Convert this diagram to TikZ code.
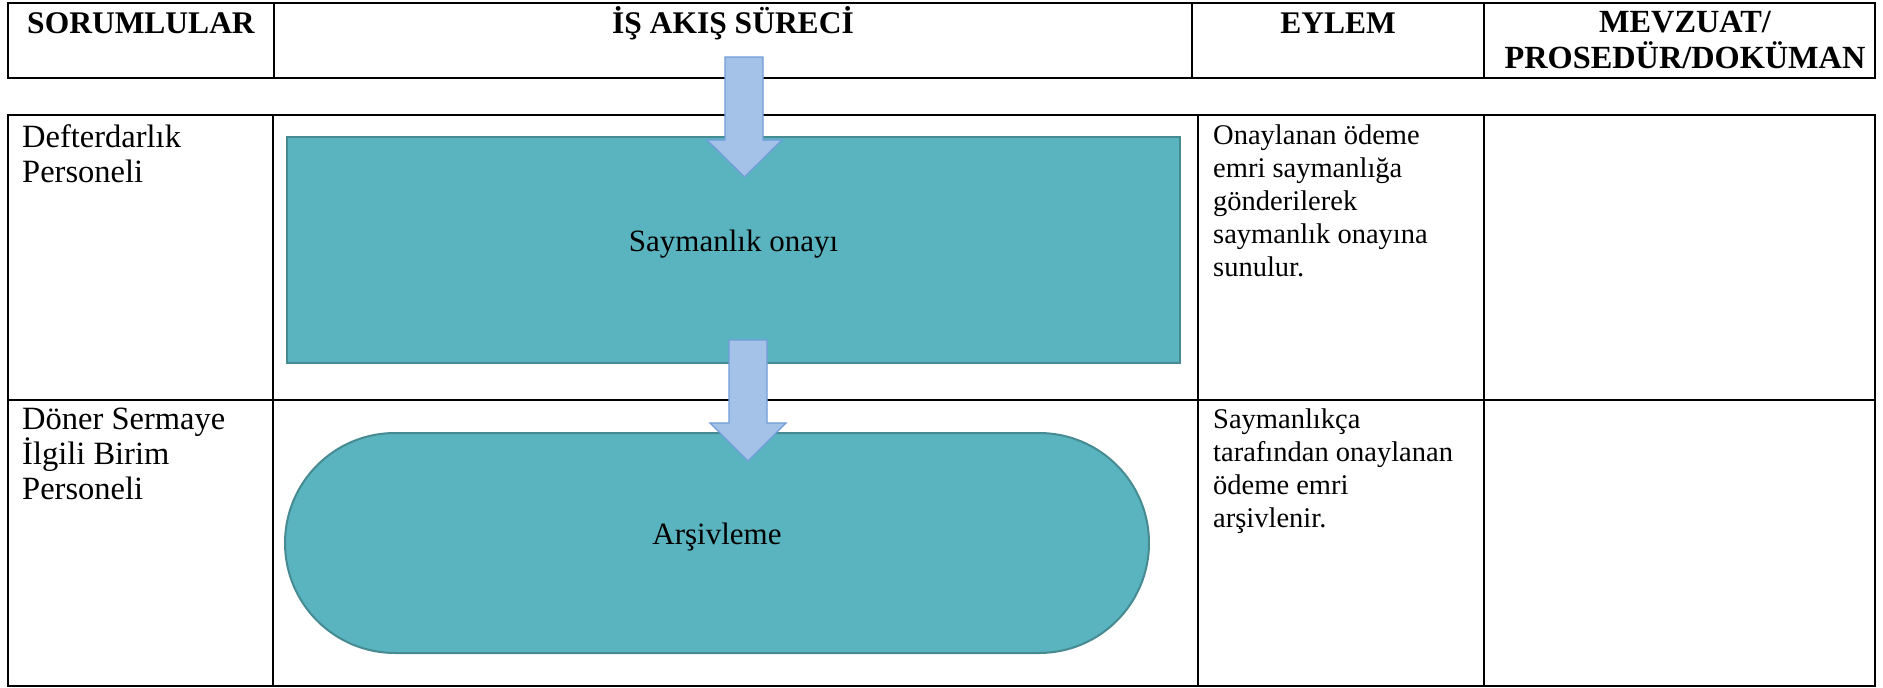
\documentclass[tikz,border=0pt]{standalone}
\usepackage{fontspec}
\setmainfont{Liberation Serif}
\definecolor{tealfill}{RGB}{90,180,191}
\definecolor{tealedge}{RGB}{70,138,146}
\definecolor{arrowfill}{RGB}{164,194,232}
\definecolor{arrowedge}{RGB}{112,156,218}
\begin{document}
\begin{tikzpicture}[x=1pt,y=-1pt,
  gridline/.style={line width=2.6pt, black},
  innerline/.style={line width=1.6pt, black},
  proc/.style={draw=tealedge, line width=2.5pt, fill=tealfill, inner sep=0pt},
  blockarrow/.style={draw=arrowedge, line width=1.3pt, fill=arrowfill, line join=miter},
  hdr/.style={font=\fontsize{31.5}{36}\selectfont\bfseries, align=center, anchor=base, inner sep=0pt},
  hdrtop/.style={font=\fontsize{32.3}{36}\selectfont\bfseries, align=center, anchor=north, inner sep=0pt},
  body/.style={font=\fontsize{28.5}{33}\selectfont, align=left, anchor=north west, inner sep=0pt},
  role/.style={font=\fontsize{32.5}{35}\selectfont, align=left, anchor=north west, inner sep=0pt},
  lbl/.style={font=\fontsize{31}{36}\selectfont}
]
\useasboundingbox (0,0) rectangle (1883,688);
% header table
\draw[gridline] (8,3) rectangle (1875,78);
\draw[innerline] (274,3) -- (274,78) (1192,3) -- (1192,78) (1484,3) -- (1484,78);
\node[hdr] (h1) at (141,33) {SORUMLULAR};
\node[hdr] (h2) at (733,33) {İŞ AKIŞ SÜRECİ};
\node[hdr] (h3) at (1338,33) {EYLEM};
\node[hdrtop] (h4) at (1685,11) {MEVZUAT/\\PROSEDÜR/DOKÜMAN};
% body table
\draw[gridline] (8,115) rectangle (1875,686);
\draw[gridline] (8,400) -- (1875,400);
\draw[innerline] (273,115) -- (273,686) (1198,115) -- (1198,686) (1484,115) -- (1484,686);
\node[role] (r1a) at (22,124) {Defterdarlık\\Personeli};
\node[body] (r1c) at (1213,124.5) {Onaylanan ödeme\\emri saymanlığa\\gönderilerek\\saymanlık onayına\\sunulur.};
\node[role] (r2a) at (22,408) {Döner Sermaye\\İlgili Birim\\Personeli};
\node[body] (r2c) at (1213,408.5) {Saymanlıkça\\tarafından onaylanan\\ödeme emri\\arşivlenir.};
% flow shapes
\node[proc, minimum width=893pt, minimum height=226pt,
      label={[lbl,yshift=6pt]center:Saymanlık onayı}] (approve) at (733.5,250) {};
\node[proc, line width=2pt, rounded corners=110pt, minimum width=864pt, minimum height=220pt,
      label={[lbl,yshift=6pt]center:Arşivleme}] (archive) at (717,543) {};
% block arrows
\draw[blockarrow] (725,57) -- (763,57) -- (763,140) -- (782,140) -- (744.5,177) -- (707,140) -- (725,140) -- cycle;
\draw[blockarrow] (729,340) -- (767,340) -- (767,423) -- (786,423) -- (748,461) -- (710,423) -- (729,423) -- cycle;
\end{tikzpicture}
\end{document}
